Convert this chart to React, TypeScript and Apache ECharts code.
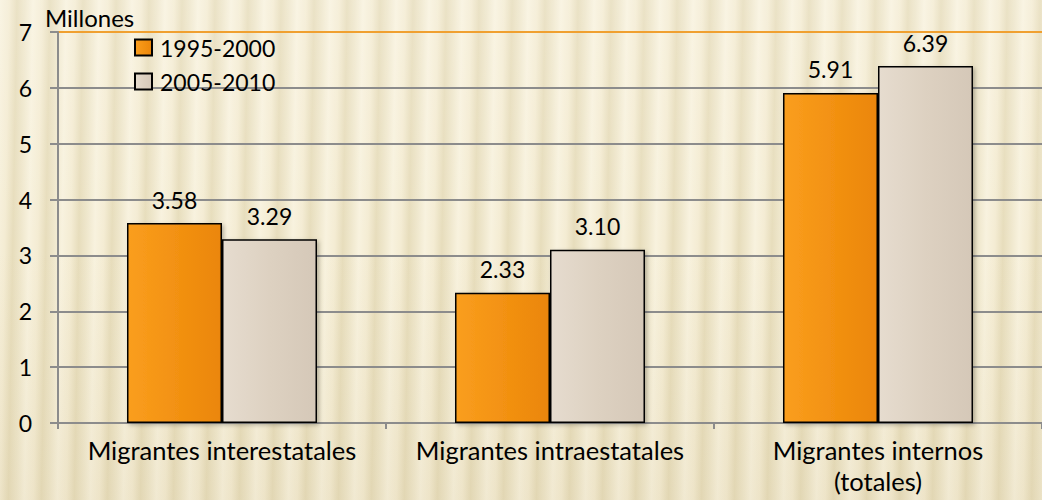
import React, { useEffect, useRef } from "react";
import * as echarts from "echarts";

const categories = ["Migrantes interestatales", "Migrantes intraestatales", "Migrantes internos\n(totales)"];
const series1995 = [3.58, 2.33, 5.91];
const series2005 = [3.29, 3.1, 6.39];
const seriesNames = ["1995-2000", "2005-2010"];
const yTicks = [0, 1, 2, 3, 4, 5, 6, 7];

const FONT = "Lato";

export default function App() {
  const ref = useRef<HTMLDivElement>(null);
  useEffect(() => {
    if (!ref.current) return;
    const chart = echarts.init(ref.current, null, { renderer: "svg" });
    const gridColors = yTicks.map((t) => (t === 7 ? "#f0a030" : "#8c8c8c"));
    const orangeFill = new echarts.graphic.LinearGradient(0, 0, 1, 0, [
      { offset: 0, color: "#fa9e1e" },
      { offset: 0.5, color: "#f39212" },
      { offset: 1, color: "#eb860a" },
    ]);
    const beigeFill = new echarts.graphic.LinearGradient(0, 0, 1, 0, [
      { offset: 0, color: "#e6dccf" },
      { offset: 0.5, color: "#ddd1c1" },
      { offset: 1, color: "#d5c8b8" },
    ]);
    const labelCfg = {
      show: true,
      position: "top",
      distance: 12,
      fontFamily: FONT,
      fontSize: 23,
      color: "#000",
      formatter: (p: any) => p.value.toFixed(2),
    };
    chart.setOption({
      animation: false,
      textStyle: { fontFamily: FONT },
      grid: { left: 58, right: 0, top: 32, bottom: 77 },
      legend: {
        orient: "vertical",
        left: 129,
        top: 31,
        itemGap: 11,
        itemWidth: 17,
        itemHeight: 16,
        icon: "rect",
        textStyle: { fontFamily: FONT, fontSize: 23, color: "#000", padding: [0, 0, 0, 3] },
        data: seriesNames,
      },
      graphic: [
        {
          type: "text",
          left: 45,
          top: 5,
          style: { text: "Millones", font: `24px ${FONT}`, fill: "#000" },
        },
      ],
      xAxis: {
        type: "category",
        data: categories,
        axisLine: { lineStyle: { color: "#8c8c8c", width: 2 } },
        axisTick: { show: true, length: 6, lineStyle: { color: "#8c8c8c", width: 2 } },
        axisLabel: {
          interval: 0,
          hideOverlap: false,
          fontFamily: FONT,
          fontSize: 25.5,
          color: "#000",
          margin: 11,
          lineHeight: 31,
        },
      },
      yAxis: {
        type: "value",
        min: 0,
        max: 7,
        interval: 1,
        axisLine: { show: true, lineStyle: { color: "#8c8c8c", width: 2 } },
        axisTick: { show: true, length: 8, lineStyle: { color: "#8c8c8c", width: 2 } },
        axisLabel: { fontFamily: FONT, fontSize: 23, color: "#000", margin: 26 },
        splitLine: { show: true, lineStyle: { color: gridColors, width: 2 } },
      },
      series: [
        {
          name: seriesNames[0],
          type: "bar",
          data: series1995,
          barWidth: 95,
          barGap: "0%",
          itemStyle: { color: orangeFill, borderColor: "#000", borderWidth: 1.5, shadowColor: "rgba(0,0,0,0.25)", shadowBlur: 4, shadowOffsetX: 2, shadowOffsetY: 2 },
          label: labelCfg,
        },
        {
          name: seriesNames[1],
          type: "bar",
          data: series2005,
          barWidth: 95,
          barGap: "0%",
          itemStyle: { color: beigeFill, borderColor: "#000", borderWidth: 1.5, shadowColor: "rgba(0,0,0,0.25)", shadowBlur: 4, shadowOffsetX: 2, shadowOffsetY: 2 },
          label: labelCfg,
        },
      ],
    });
    return () => chart.dispose();
  }, []);
  return (
    <div
      style={{
        position: "fixed",
        left: 0,
        top: 0,
        width: 1042,
        height: 500,
        background:
          "linear-gradient(180deg, rgba(255,255,255,0.15) 0%, rgba(255,255,255,0) 50%, rgba(190,170,120,0.12) 100%), repeating-linear-gradient(91deg, #f8f2de 0px, #f4ecd3 9px, #e7ddbc 17px, #efe7cc 25px, #f8f2de 33px)",
      }}
    >
      <div ref={ref} style={{ width: 1042, height: 500 }} />
    </div>
  );
}
